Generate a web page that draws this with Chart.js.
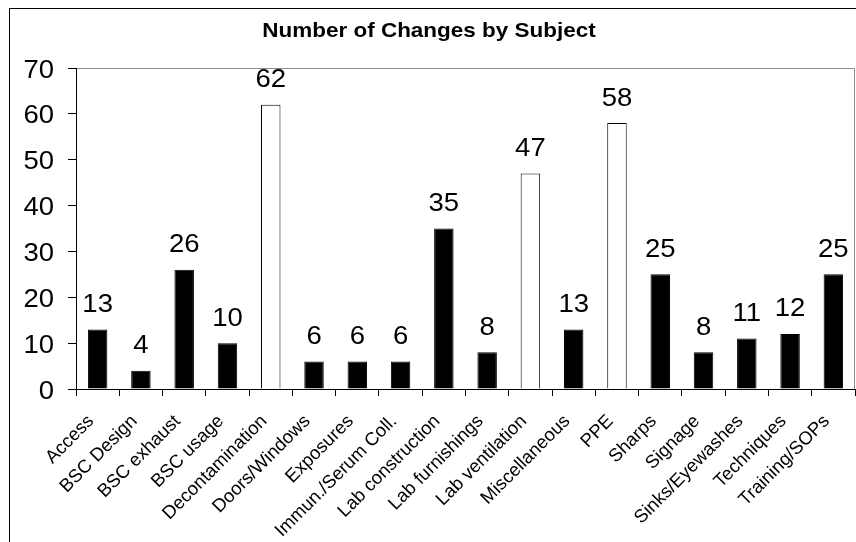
<!DOCTYPE html>
<html>
<head>
<meta charset="utf-8">
<script src="https://cdn.jsdelivr.net/npm/chart.js@4"></script>
<style>
  html, body { margin: 0; padding: 0; background: #fff; }
  #wrap { width: 856px; height: 542px; position: relative; }
</style>
</head>
<body>
<div id="wrap"><canvas id="chart"></canvas></div>
<script>
// Subjects and counts
const subjects = [
  'Access', 'BSC Design', 'BSC exhaust', 'BSC usage', 'Decontamination',
  'Doors/Windows', 'Exposures', 'Immun./Serum Coll.', 'Lab construction',
  'Lab furnishings', 'Lab ventilation', 'Miscellaneous', 'PPE', 'Sharps',
  'Signage', 'Sinks/Eyewashes', 'Techniques', 'Training/SOPs'
];
const changes = [13, 4, 26, 10, 62, 6, 6, 6, 35, 8, 47, 13, 58, 25, 8, 11, 12, 25];
// subjects drawn as open (white) bars
const openBars = ['Decontamination', 'Lab ventilation', 'PPE'];
const yTicks = [0, 10, 20, 30, 40, 50, 60, 70];
const chartTitle = 'Number of Changes by Subject';

const FONT = '"Liberation Sans", Arial, sans-serif';

// the old picture has its text a bit wider than normal, so stretch it sideways
function stretchedText(ctx, text, x, y, sx) {
  ctx.save();
  ctx.translate(x, y);
  ctx.scale(sx, 1);
  ctx.fillText(text, 0, 0);
  ctx.restore();
}

// outer frame + grey top/right edge of the plot area
const framePlugin = {
  id: 'frame',
  beforeDraw(chart) {
    const { ctx, chartArea } = chart;
    ctx.save();
    ctx.strokeStyle = '#000';
    ctx.lineWidth = 1;
    ctx.strokeRect(9.5, 8.5, 2000, 2000);
    ctx.strokeStyle = '#8c8c8c';
    ctx.beginPath();
    ctx.moveTo(chartArea.left, chartArea.top + 0.5);
    ctx.lineTo(chartArea.right - 0.5, chartArea.top + 0.5);
    ctx.lineTo(chartArea.right - 0.5, chartArea.bottom);
    ctx.stroke();
    ctx.restore();
  }
};

// title, axis labels and value labels
const textPlugin = {
  id: 'texts',
  afterDraw(chart) {
    const { ctx, scales } = chart;
    const xs = scales.x, ys = scales.y;
    ctx.save();
    ctx.fillStyle = '#000';
    ctx.textBaseline = 'alphabetic';

    // title
    ctx.font = 'bold 21px ' + FONT;
    ctx.textAlign = 'center';
    stretchedText(ctx, chartTitle, 429, 37, 1.07);

    // y tick labels
    ctx.font = '25px ' + FONT;
    ctx.textAlign = 'right';
    yTicks.forEach(v => {
      stretchedText(ctx, String(v), xs.left - 22, ys.getPixelForValue(v) + 9.5, 1.1);
    });

    // value labels above bars
    ctx.textAlign = 'center';
    const meta = chart.getDatasetMeta(0);
    meta.data.forEach((bar, i) => {
      stretchedText(ctx, String(changes[i]), bar.x, bar.y - 17.5, 1.1);
    });

    // category labels, 45 degrees
    ctx.font = '18.5px ' + FONT;
    ctx.textAlign = 'right';
    subjects.forEach((s, i) => {
      ctx.save();
      ctx.translate(xs.getPixelForValue(i) - 3, ys.bottom + 33);
      ctx.rotate(-Math.PI / 4);
      ctx.fillText(s, 0, 0);
      ctx.restore();
    });
    ctx.restore();
  }
};

new Chart(document.getElementById('chart'), {
  type: 'bar',
  data: {
    labels: subjects,
    datasets: [{
      data: changes,
      backgroundColor: subjects.map(s => openBars.includes(s) ? '#fff' : '#000'),
      borderColor: '#000',
      borderWidth: 1,
      barPercentage: 0.45,
      categoryPercentage: 1.0,
    }]
  },
  options: {
    responsive: true,
    maintainAspectRatio: false,
    animation: false,
    layout: { padding: { left: 0, right: 1, top: 68, bottom: 0 } },
    plugins: {
      legend: { display: false },
      tooltip: { enabled: false },
      title: { display: false }
    },
    scales: {
      x: {
        grid: { display: true, drawOnChartArea: false, drawTicks: true, tickLength: 7, color: '#000', offset: true },
        border: { display: true, color: '#000' },
        ticks: { display: false, autoSkip: false },
        afterFit(scale) { scale.height = 153; }
      },
      y: {
        min: 0,
        max: 70,
        afterBuildTicks(scale) { scale.ticks = yTicks.map(v => ({ value: v })); },
        grid: { display: true, drawOnChartArea: false, drawTicks: true, tickLength: 8, color: '#000' },
        border: { display: true, color: '#000' },
        ticks: { display: false },
        afterFit(scale) { scale.width = 76; }
      }
    }
  },
  plugins: [framePlugin, textPlugin]
});
</script>
</body>
</html>
